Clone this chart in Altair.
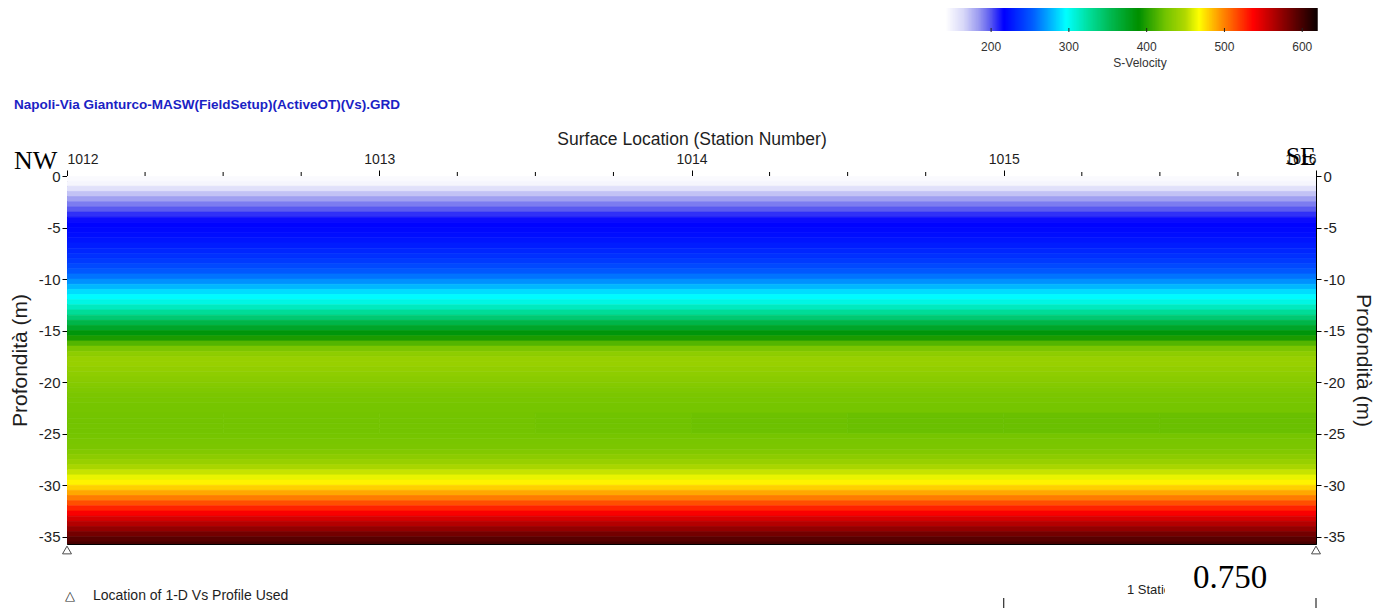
import altair as alt
import pandas as pd

# ---------------------------------------------------------------- data
# column edges of the velocity section (station numbers)
station_edges = [1012.0, 1012.5, 1013.0, 1013.5, 1014.0, 1014.5, 1015.0, 1015.5, 1016.0]

# top of each 0.5 m depth cell (m)
depth_tops = [
    0.0, -0.5, -1.0, -1.5, -2.0, -2.5, -3.0, -3.5, -4.0, -4.5,
    -5.0, -5.5, -6.0, -6.5, -7.0, -7.5, -8.0, -8.5, -9.0, -9.5,
    -10.0, -10.5, -11.0, -11.5, -12.0, -12.5, -13.0, -13.5, -14.0, -14.5,
    -15.0, -15.5, -16.0, -16.5, -17.0, -17.5, -18.0, -18.5, -19.0, -19.5,
    -20.0, -20.5, -21.0, -21.5, -22.0, -22.5, -23.0, -23.5, -24.0, -24.5,
    -25.0, -25.5, -26.0, -26.5, -27.0, -27.5, -28.0, -28.5, -29.0, -29.5,
    -30.0, -30.5, -31.0, -31.5, -32.0, -32.5, -33.0, -33.5, -34.0, -34.5,
    -35.0, -35.5,
]
cell_bottom_last = -36.0

# 1-D Vs profile (m/s), one value per depth cell
vs_profile = [
    145, 148, 160, 172, 183, 192, 200, 208, 215, 218,
    220, 222, 225, 228, 232, 236, 240, 246, 252, 260,
    268, 278, 288, 296, 305, 316, 328, 342, 358, 372,
    385, 398, 415, 428, 436, 440, 440, 438, 436, 434,
    432, 430, 428, 427, 426, 426, 425, 425, 425, 425,
    426, 427, 428, 431, 435, 440, 447, 455, 463, 471,
    480, 490, 502, 515, 528, 540, 552, 563, 574, 585,
    594, 600,
]

# lateral change of the slower band at about 23-25 m depth
band_tops = [-23.0, -23.5, -24.0, -24.5]
band_shift = [0, 0, 0, -1, -2, -3, -3, -3]

# positions of the 1-D profiles used, and the scale bar
profile_stations = [1012, 1016]
scale_bar_stations = [1015, 1016]

# axis tick values
station_ticks = [1012, 1013, 1014, 1015, 1016]
station_minor = [1012.25, 1012.5, 1012.75, 1013.25, 1013.5, 1013.75,
                 1014.25, 1014.5, 1014.75, 1015.25, 1015.5, 1015.75]
depth_ticks = [0, -5, -10, -15, -20, -25, -30, -35]
vs_ticks = [200, 300, 400, 500, 600]

# S-velocity colour table
vs_stops = [142, 165, 185, 200, 217, 255, 297, 325, 355, 390, 425, 450, 468, 492, 538, 575, 619]
vs_colors = ["#ffffff", "#d8d8f8", "#9a9af0", "#5a5af0", "#0000ff", "#0060ff", "#00ffff",
             "#00e0a0", "#00b850", "#009000", "#74c400", "#b0d800", "#ffff00", "#ffa000",
             "#ff0000", "#900000", "#100000"]

# ---------------------------------------------------------------- table
rows = []
n_cols = len(station_edges) - 1
for j, top in enumerate(depth_tops):
    bottom = depth_tops[j + 1] if j + 1 < len(depth_tops) else cell_bottom_last
    if top in band_tops:
        # rows of the band keep one cell per half station
        for i in range(n_cols):
            rows.append({"x0": station_edges[i], "x1": station_edges[i + 1],
                         "top": top, "bottom": bottom,
                         "vs": vs_profile[j] + band_shift[i]})
    else:
        rows.append({"x0": station_edges[0], "x1": station_edges[-1],
                     "top": top, "bottom": bottom, "vs": vs_profile[j]})
cells = pd.DataFrame(rows)

SANS = "Liberation Sans, Arial, sans-serif"
SERIF = "Liberation Serif, Times New Roman, serif"
INK = "#1e1e1e"

W, H = 1249, 368
x_scale = alt.Scale(domain=[1012, 1016], nice=False, zero=False)
y_scale = alt.Scale(domain=[-35.7, 0], nice=False, zero=False)
vs_scale = alt.Scale(domain=vs_stops, range=vs_colors, interpolate="rgb", clamp=True)
bar_scale = alt.Scale(domain=[142, 619], range=[879, 1250], nice=False, zero=False)

axis_common = dict(
    labelFont=SANS, labelColor=INK,
    titleFont=SANS, titleColor=INK, titleFontWeight="normal",
    tickColor="black", domainColor="black", grid=False,
    labelExpr="'' + datum.value",
)
depth_axis = dict(
    values=depth_ticks, title="Profondità (m)", tickSize=5, labelPadding=2,
    titlePadding=8, titleFontSize=21, labelFontSize=15, **axis_common,
)

# ---------------------------------------------------------------- section
heat = alt.Chart(cells).mark_rect(clip=True, strokeWidth=0.7).encode(
    x=alt.X("x0:Q", scale=x_scale, axis=alt.Axis(
        orient="top", values=station_ticks, title="Surface Location (Station Number)",
        tickSize=6, labelPadding=4, titlePadding=4, titleFontSize=17.5, labelFontSize=14,
        **axis_common)),
    x2="x1:Q",
    y=alt.Y("top:Q", scale=y_scale, axis=alt.Axis(orient="left", **depth_axis)),
    y2="bottom:Q",
    color=alt.Color("vs:Q", scale=vs_scale, legend=None),
    stroke=alt.Stroke("vs:Q", scale=vs_scale, legend=None),
)

right_axis = alt.Chart(pd.DataFrame({"d": depth_ticks})).mark_point(opacity=0).encode(
    y=alt.Y("d:Q", scale=y_scale, axis=alt.Axis(orient="right", **depth_axis)),
)

minor = alt.Chart(pd.DataFrame({"s": station_minor})).mark_rule(color="black").encode(
    x=alt.X("s:Q", scale=x_scale, axis=None),
    y=alt.value(0), y2=alt.value(-4),
)

profiles = alt.Chart(pd.DataFrame({"s": profile_stations})).mark_point(
    shape="triangle-up", filled=False, color="black", size=80, strokeWidth=1, yOffset=6
).encode(
    x=alt.X("s:Q", scale=x_scale, axis=None),
    y=alt.value("height"),
)

scale_bar = alt.Chart(pd.DataFrame({"s": scale_bar_stations})).mark_rule(color="black").encode(
    x=alt.X("s:Q", scale=x_scale, axis=None),
    y=alt.value(422), y2=alt.value(434),
)

# ---------------------------------------------------------------- colour bar
cbar = alt.Chart(alt.sequence(142, 619.5, 0.5, as_="v")).mark_rule(strokeWidth=1.3).encode(
    x=alt.X("v:Q", scale=bar_scale, axis=None),
    y=alt.value(-168), y2=alt.value(-145),
    color=alt.Color("v:Q", scale=vs_scale, legend=None),
)
cbar_ticks = alt.Chart(pd.DataFrame({"v": vs_ticks})).mark_rule(color="#222").encode(
    x=alt.X("v:Q", scale=bar_scale, axis=None),
    y=alt.value(-148), y2=alt.value(-144),
)
cbar_labels = alt.Chart(pd.DataFrame({"v": vs_ticks})).mark_text(
    font=SANS, fontSize=12, color="#333", baseline="middle"
).encode(
    x=alt.X("v:Q", scale=bar_scale, axis=None),
    y=alt.value(-129),
    text="v:Q",
)


def note(text, x, y, size, font=SANS, color=INK, align="left", weight="normal"):
    return alt.Chart(pd.DataFrame({"t": [text]})).mark_text(
        font=font, fontSize=size, color=color, align=align, baseline="middle",
        fontWeight=weight,
    ).encode(x=alt.value(x), y=alt.value(y), text="t:N")


blank = alt.Chart(pd.DataFrame({"t": [0]})).mark_rect(color="white").encode(
    x=alt.value(1098), x2=alt.value(1208), y=alt.value(386), y2=alt.value(421),
)

layers = [
    heat, right_axis, minor, profiles, scale_bar,
    cbar, cbar_ticks, cbar_labels,
    note("S-Velocity", 1073, -113, 12, color="#333", align="center"),
    note("Napoli-Via Gianturco-MASW(FieldSetup)(ActiveOT)(Vs).GRD", -53, -71, 13.5,
         color="#1a22c4", weight="bold"),
    note("NW", -53, -15, 26, font=SERIF, color="black"),
    note("SE", W, -19, 26, font=SERIF, color="black", align="right"),
    note("△", 3, 420, 13, color=INK, align="center"),
    note("Location of 1-D Vs Profile Used", 26, 420, 14),
    note("1 Station", 1060, 414, 13),
    blank,
    note("0.750", 1163, 402, 33, font=SERIF, color="black", align="center"),
]

chart = alt.layer(*layers).resolve_scale(
    x="independent", y="independent"
).properties(
    width=W, height=H,
    padding={"left": 67, "top": 176, "right": 75, "bottom": 64},
    autosize=alt.AutoSizeParams(type="none"),
    background="white",
).configure_view(stroke="black", strokeWidth=1)

chart.save("out.html", embed_options={"renderer": "svg", "actions": False})
